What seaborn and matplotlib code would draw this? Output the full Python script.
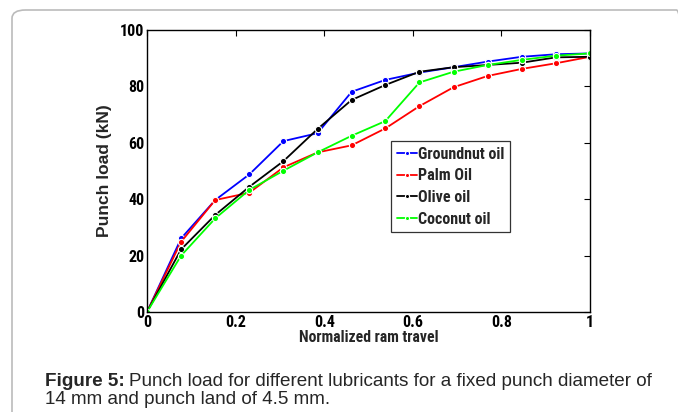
import matplotlib
matplotlib.use("Agg")
import matplotlib.pyplot as plt
import seaborn as sns
import pandas as pd
from matplotlib.patches import FancyBboxPatch

x_travel = [0, 0.077, 0.154, 0.231, 0.308, 0.385, 0.462, 0.538, 0.615, 0.692, 0.769, 0.846, 0.923, 1.0]
groundnut = [0, 26.1, 39.7, 48.8, 60.6, 63.4, 78.1, 82.3, 84.9, 86.8, 88.8, 90.5, 91.4, 91.7]
palm = [0, 24.9, 39.7, 42.3, 51.3, 56.6, 59.1, 65.1, 73.0, 79.7, 83.7, 86.2, 88.2, 90.5]
olive = [0, 22.2, 34.4, 44.4, 53.5, 64.9, 75.2, 80.5, 85.2, 86.8, 87.6, 88.4, 90.3, 90.5]
coconut = [0, 20.0, 33.2, 43.3, 50.1, 56.6, 62.5, 67.7, 81.4, 85.2, 87.6, 89.4, 90.9, 91.7]
series_names = ["Groundnut oil", "Palm Oil", "Olive oil", "Coconut oil"]
series_colors = ["#0000ff", "#ff0000", "#000000", "#00ff00"]
x_ticks = [0, 0.2, 0.4, 0.6, 0.8, 1.0]
x_tick_labels = ["0", "0.2", "0.4", "0.6", "0.8", "1"]
y_ticks = [0, 20, 40, 60, 80, 100]
y_tick_labels = ["0", "20", "40", "60", "80", "100"]

rows = []
for name, vals in zip(series_names, [groundnut, palm, olive, coconut]):
    for xv, yv in zip(x_travel, vals):
        rows.append({"x": xv, "y": yv, "oil": name})
df = pd.DataFrame(rows)

sns.set_style("white")
plt.rcParams["font.family"] = ["Liberation Sans", "DejaVu Sans"]
narrow = ["Roboto Condensed", "Liberation Sans", "DejaVu Sans"]

fig = plt.figure(figsize=(6.78, 4.12), dpi=100)
ax = fig.add_axes([147/678, 1 - 312/412, (590-147)/678, (312-30)/412])

sns.lineplot(data=df, x="x", y="y", hue="oil", hue_order=series_names,
             palette=series_colors, marker="o", markersize=4.5, markeredgewidth=0.8,
             linewidth=1.3, ax=ax, legend=True)

ax.set_xlim(0, 1)
ax.set_ylim(0, 100)
ax.set_xticks(x_ticks)
ax.set_xticklabels(x_tick_labels, fontfamily=narrow, fontweight="bold", fontsize=11.5)
ax.set_yticks(y_ticks)
ax.set_yticklabels(y_tick_labels, fontfamily=narrow, fontweight="bold", fontsize=11.5)
ax.tick_params(direction="in", top=True, right=True, length=4, width=0.8, pad=2, colors="black")
for s in ax.spines.values():
    s.set_visible(True)
    s.set_color("black")
    s.set_linewidth(1.0)

ax.set_xlabel("Normalized ram travel", fontfamily=narrow, fontweight="bold", fontsize=11.3, labelpad=0)
ax.set_ylabel("Punch load (kN)", fontfamily=["Liberation Sans"], fontweight="bold", fontsize=12.5, labelpad=6)

leg = ax.legend(loc="upper left", bbox_to_anchor=((391-147)/443, (312-141)/282),
                frameon=True, fancybox=False, edgecolor="black", borderpad=0.35,
                labelspacing=0.42, handlelength=1.25, handletextpad=0.1, borderaxespad=0,
                prop={"family": narrow, "weight": "bold", "size": 11.5})
leg.get_frame().set_linewidth(0.9)
for line in leg.get_lines():
    line.set_markersize(3)
    line.set_linewidth(1.3)

border = FancyBboxPatch((12/678, -0.2), 1.0, (412-10)/412 + 0.2,
                        boxstyle="round,pad=0,rounding_size=0.02",
                        transform=fig.transFigure, facecolor="none",
                        edgecolor="#bbbbbb", linewidth=1.2, clip_on=False)
fig.patches.append(border)

cap_size = 13.6
y1 = 1 - 381/412
y2 = 1 - 400/412
t_bold = fig.text(45/678, y1, "Figure 5:", fontsize=cap_size, fontweight="bold",
                  va="center", ha="left", family="Liberation Sans")
fig.canvas.draw()
bb = t_bold.get_window_extent(renderer=fig.canvas.get_renderer())
fig.text((bb.x1 + 4) / fig.bbox.width, y1,
         "Punch load for different lubricants for a fixed punch diameter of",
         fontsize=cap_size, va="center", ha="left", family="Liberation Sans")
fig.text(45/678, y2, "14 mm and punch land of 4.5 mm.", fontsize=cap_size, va="center",
         ha="left", family="Liberation Sans")

fig.savefig("out.png", dpi=100)
